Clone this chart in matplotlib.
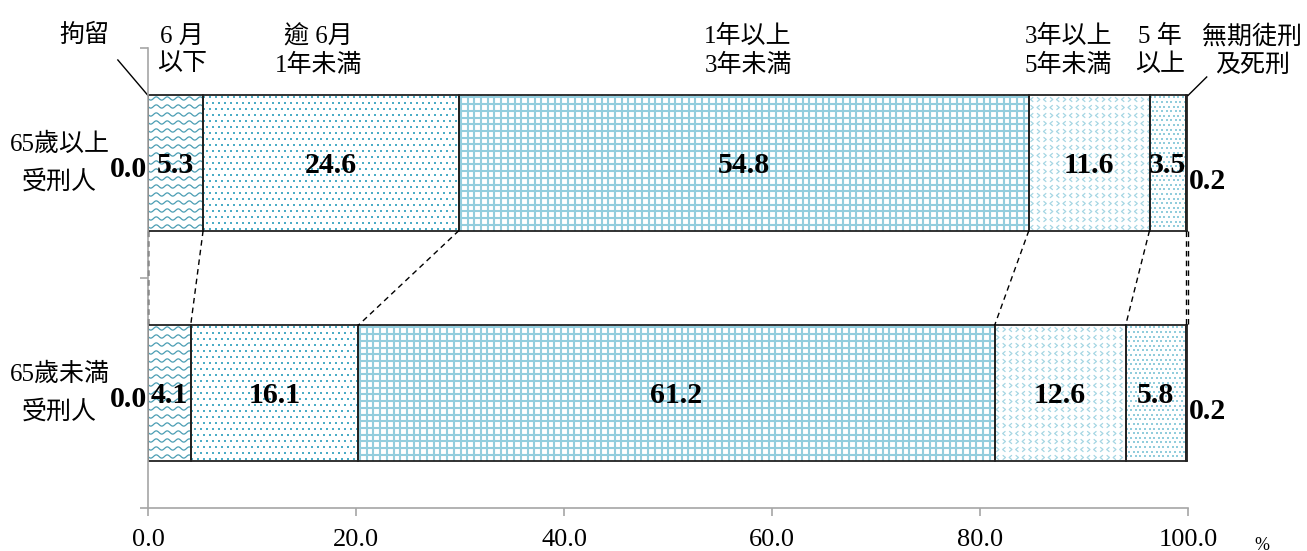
import numpy as np
import matplotlib.pyplot as plt
import matplotlib.transforms as mtransforms
from matplotlib.collections import LineCollection
from matplotlib.path import Path

plt.rcParams['font.family'] = ['Liberation Serif', 'Noto Sans CJK TC']

groups = ['65歲以上\n受刑人', '65歲未満\n受刑人']
segments = ['拘留', '6 月\n以下', '逾 6月\n1年未満', '1年以上\n3年未満',
            '3年以上\n5年未満', '5 年\n以上', '無期徒刑\n及死刑']
older = [0.0, 5.3, 24.6, 54.8, 11.6, 3.5, 0.2]
younger = [0.0, 4.1, 16.1, 61.2, 12.6, 5.8, 0.2]
xticks = [0, 20, 40, 60, 80, 100]

# layout (not data)
top_label_x = [-6.1, 3.3, 16.4, 57.7, 88.5, 97.3, 106.2]
patterns = [None, 'wave', 'dots', 'grid', 'chevron', 'fine', None]

W, H = 1307, 551
fig = plt.figure(figsize=(W / 100, H / 100), dpi=100)
ax = fig.add_axes([148 / W, (H - 508) / H, 1040 / W, 460 / H])
ax.set_xlim(0, 100)
ax.set_ylim(1.5, -0.5)

PX = 10.4   # pixels per x unit
PY = 230.0  # pixels per y unit
bar_h = 0.587
gray = '#A6A6A6'


def fill_pattern(p, kind):
    x0, y0 = p.get_x(), p.get_y()
    x1, y1 = x0 + p.get_width(), y0 + p.get_height()
    if p.get_width() <= 0:
        return
    if kind == 'wave':
        xs = np.linspace(x0, x1, 200)
        segs = []
        for r in np.arange(y0 + 3 / PY, y1, 8 / PY):
            ys = r + 1.6 / PY * np.sin(2 * np.pi * (xs - x0) / (11 / PX))
            segs.append(np.column_stack([xs, ys]))
        lc = LineCollection(segs, colors='#4A9DB3', linewidths=0.9, zorder=1.5)
        ax.add_collection(lc)
        lc.set_clip_path(p)
    elif kind == 'grid':
        segs = []
        for gx in np.arange(x0 + 2 / PX, x1, 6.7 / PX):
            segs.append([(gx, y0), (gx, y1)])
        for gy in np.arange(y0 + 2 / PY, y1, 6.7 / PY):
            segs.append([(x0, gy), (x1, gy)])
        lc = LineCollection(segs, colors='#93CDDD', linewidths=1.5, zorder=1.5)
        ax.add_collection(lc)
        lc.set_clip_path(p)
    elif kind in ('dots', 'fine'):
        step = 6.0 if kind == 'dots' else 4.6
        col = '#4BACC6' if kind == 'dots' else '#92CDDC'
        pts = []
        for i, gy in enumerate(np.arange(y0 + 2 / PY, y1, step / PY)):
            off = (step / 2 / PX) * (i % 2)
            for gx in np.arange(x0 + 1 / PX + off, x1, step / PX):
                pts.append((gx, gy))
        pts = np.array(pts)
        sc = ax.scatter(pts[:, 0], pts[:, 1], s=2.2 if kind == 'dots' else 1.6,
                        c=col, marker='s', linewidths=0, zorder=1.5)
        sc.set_clip_path(p)
    elif kind == 'chevron':
        left = Path([(0.3, 0.5), (-0.3, 0.0), (0.3, -0.5)])
        right = Path([(-0.3, 0.5), (0.3, 0.0), (-0.3, -0.5)])
        for k, mk in enumerate([left, right]):
            pts = []
            for i, gy in enumerate(np.arange(y0 + 4 / PY, y1, 8 / PY)):
                off = (6.5 / PX) * ((i + k) % 2)
                for gx in np.arange(x0 + 3 / PX + off, x1, 13 / PX):
                    pts.append((gx, gy))
            pts = np.array(pts)
            sc = ax.scatter(pts[:, 0], pts[:, 1], s=11, marker=mk, facecolors='none',
                            edgecolors='#A5D6E3', linewidths=0.9, zorder=1.5)
            sc.set_clip_path(p)


cum_old = np.concatenate([[0], np.cumsum(older)])
cum_young = np.concatenate([[0], np.cumsum(younger)])

for gi, vals in enumerate([older, younger]):
    lefts = np.concatenate([[0], np.cumsum(vals)[:-1]])
    bars = ax.barh([gi] * len(vals), vals, left=lefts, height=bar_h,
                   color='white', edgecolor='none', zorder=1)
    for p, kind in zip(bars.patches, patterns):
        if kind:
            fill_pattern(p, kind)
    ax.barh([gi] * len(vals), vals, left=lefts, height=bar_h,
            fill=False, edgecolor='#222222', linewidth=1.3, zorder=2)
    # value labels
    for j, (v, l) in enumerate(zip(vals, lefts)):
        if j == 0:
            ax.text(-0.1, gi + 0.03, f'{v:.1f}', ha='right', va='center',
                    fontsize=21.5, fontweight='bold', zorder=3)
        elif j == len(vals) - 1:
            ax.text(100.1, gi + 0.08, f'{v:.1f}', ha='left', va='center',
                    fontsize=21.5, fontweight='bold', zorder=3)
        else:
            ax.text(l + v / 2, gi + 0.01, f'{v:.1f}', ha='center', va='center',
                    fontsize=21.5, fontweight='bold', zorder=3)

# series lines between the two bars
for a, b in zip(cum_old, cum_young):
    ax.plot([a, b], [bar_h / 2, 1 - bar_h / 2], color='black', lw=1,
            ls=(0, (4, 3)), zorder=2.5, clip_on=False)

# category labels
for gi, g in enumerate(groups):
    ax.text(-8.5, gi, g, ha='center', va='center', fontsize=18,
            linespacing=1.8, multialignment='center')

# segment labels at the top
bt = mtransforms.blended_transform_factory(ax.transData, ax.transAxes)
for s, x in zip(segments, top_label_x):
    yy = 1.028 if '\n' not in s else 0.994
    ax.text(x, yy, s, transform=bt, ha='center', va='center', fontsize=18,
            linespacing=1.3, multialignment='center')

# leader lines
ax.plot([-2.9, 0], [-0.448, -bar_h / 2], color='black', lw=1, clip_on=False)
ax.plot([101.8, 100], [-0.374, -bar_h / 2], color='black', lw=1, clip_on=False)

# axes styling
for side in ['top', 'right']:
    ax.spines[side].set_visible(False)
for side in ['left', 'bottom']:
    ax.spines[side].set_color(gray)
    ax.spines[side].set_linewidth(1.2)
ax.set_xticks(xticks)
ax.set_xticklabels([f'{t:.1f}' for t in xticks], fontsize=19)
ax.tick_params(axis='x', direction='out', length=6, color=gray, width=1.2, pad=9)
ax.set_yticks([-0.5, 0.5, 1.5])
ax.set_yticklabels([])
ax.tick_params(axis='y', direction='out', length=6, color=gray, width=1.2)
fig.text(1262 / W, (H - 545) / H, '%', ha='center', va='center', fontsize=13)

fig.savefig('out.png', dpi=100)
